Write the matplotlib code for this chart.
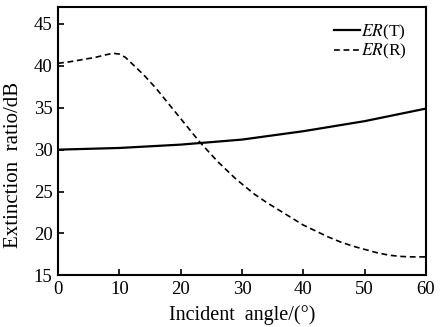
import matplotlib
matplotlib.use("Agg")
import matplotlib.pyplot as plt

plt.rcParams['font.family'] = ['Liberation Serif', 'DejaVu Serif']
plt.rcParams['mathtext.fontset'] = 'stix'

angle_t = [0, 10, 20, 30, 40, 50, 60]
er_t = [30.0, 30.2, 30.6, 31.2, 32.2, 33.4, 34.9]

angle_r = [0, 2, 4, 6, 8, 9, 10, 11, 12, 13, 14, 15, 16, 17, 18, 19, 20, 21, 22, 23, 24,
           25, 26, 27, 28, 29, 30, 32, 34, 36, 38, 40, 42, 44, 46, 48, 50, 52, 54, 56, 58, 60]
er_r = [40.3, 40.5, 40.75, 41.0, 41.35, 41.5, 41.4, 41.0, 40.3, 39.6, 38.9, 38.1, 37.3,
        36.4, 35.5, 34.6, 33.7, 32.8, 31.9, 31.0, 30.2, 29.4, 28.6, 27.9, 27.2, 26.5, 25.9,
        24.7, 23.7, 22.8, 21.9, 21.0, 20.3, 19.6, 19.0, 18.5, 18.1, 17.7, 17.4, 17.25, 17.2, 17.2]

fig = plt.figure(figsize=(4.4, 3.27), dpi=100)
ax = fig.add_axes([0.132, 0.158, 0.836, 0.82])

ax.plot(angle_t, er_t, color="black", linewidth=1.6, label="$ER$(T)")
ax.plot(angle_r, er_r, color="black", linewidth=1.2, linestyle=(0, (3.5, 2.2)), label="$ER$(R)")

ax.set_xlim(0, 60)
ax.set_ylim(15, 47)
ax.set_xticks([0, 10, 20, 30, 40, 50, 60])
ax.set_yticks([15, 20, 25, 30, 35, 40, 45])
ax.tick_params(direction="in", length=4, width=1.2, labelsize=13.5, pad=4, top=False, right=False)
for s in ax.spines.values():
    s.set_linewidth(1.5)

ax.set_xlabel("Incident  angle/(°)", fontsize=14.5, labelpad=5)
ax.set_ylabel("Extinction  ratio/dB", fontsize=15)
ax.yaxis.set_label_coords(-0.095, 0.41)
ax.legend(loc="upper right", frameon=False, fontsize=12.5, handlelength=1.5, handletextpad=0.05,
          labelspacing=0.0, borderaxespad=0.5, bbox_to_anchor=(0.99, 1.0))

fig.savefig("out.png", dpi=100)
